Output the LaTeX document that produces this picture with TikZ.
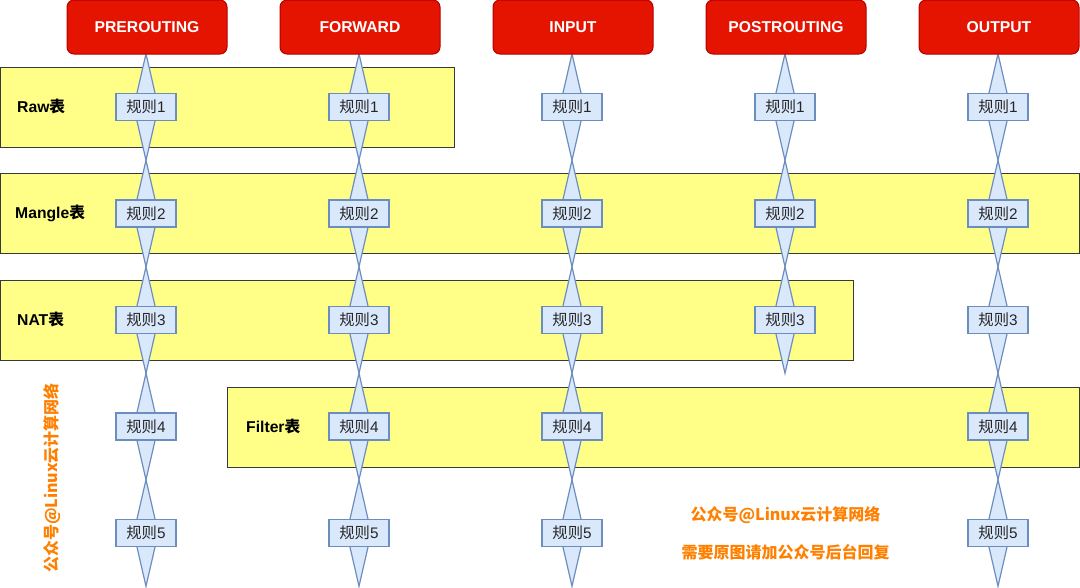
\documentclass[tikz,border=0pt]{standalone}
\usepackage{fontspec}
\setmainfont{Liberation Sans}
\newfontfamily\cjk{Noto Sans CJK SC}
\usetikzlibrary{shapes.geometric}
\definecolor{hdrfill}{HTML}{E51400}
\definecolor{hdrdraw}{HTML}{B20000}
\definecolor{tblfill}{HTML}{FFFF88}
\definecolor{tbldraw}{HTML}{36393D}
\definecolor{rulefill}{HTML}{DAE8FC}
\definecolor{ruledraw}{HTML}{6C8EBF}
\definecolor{wm}{HTML}{FF8000}
\tikzset{
  hdr/.style={draw=hdrdraw, fill=hdrfill, line width=1pt, rounded corners=7pt,
    minimum width=160pt, minimum height=54pt, inner sep=0pt,
    text=white, font=\fontsize{15.7}{18}\selectfont\bfseries},
  tbl/.style={draw=tbldraw, fill=tblfill, line width=1.2pt, inner sep=0pt},
  tbllabel/.style={anchor=west, inner sep=0pt, font=\fontsize{15.7}{18}\selectfont\bfseries},
  dia/.style={shape=diamond, draw=ruledraw, fill=rulefill, line width=1.2pt,
    minimum width=25pt, minimum height=107pt, inner sep=0pt},
  rulebox/.style={draw=ruledraw, fill=rulefill, line width=1.2pt,
    minimum width=60pt, minimum height=27pt, inner sep=0pt,
    text=black!85, font=\fontsize{15.3}{18}\selectfont},
  wmtext/.style={text=wm, inner sep=0pt, font=\fontsize{16}{19}\selectfont\bfseries\cjk},
}
\begin{document}
\begin{tikzpicture}[x=1pt, y=-1pt]
\useasboundingbox (0,0) rectangle (1080,587);
% tables
\node[tbl, minimum width=454pt, minimum height=80pt, anchor=north west] (raw) at (0,67) {};
\node[tbl, minimum width=1079pt, minimum height=80pt, anchor=north west] (mangle) at (0,173) {};
\node[tbl, minimum width=853pt, minimum height=80pt, anchor=north west] (nat) at (0,280) {};
\node[tbl, minimum width=852pt, minimum height=80pt, anchor=north west] (filter) at (227,386.5) {};
\node[tbllabel] (rawl) at (17,107) {Raw{\cjk 表}};
\node[tbllabel] (manglel) at (15,213.5) {Mangle{\cjk 表}};
\node[tbllabel] (natl) at (17,320) {NAT{\cjk 表}};
\node[tbllabel] (filterl) at (246,426.5) {Filter{\cjk 表}};
% diamonds and rules
\foreach \c/\xx/\n in {pre/146/5, fwd/359/5, inp/572/5, post/785/3, out/998/5}{
  \foreach \r in {1,...,\n}{
    \node[dia] (d-\c-\r) at (\xx,{107+106.5*(\r-1)}) {};
  }
}
\foreach \c/\xx/\n in {pre/146/5, fwd/359/5, inp/572/5, post/785/3, out/998/5}{
  \foreach \r in {1,...,\n}{
    \node[rulebox] (r-\c-\r) at (\xx,{107+106.5*(\r-1)}) {{\cjk 规则}\r};
  }
}
% headers
\node[hdr] (pre) at (147,27) {PREROUTING};
\node[hdr] (fwd) at (360,27) {FORWARD};
\node[hdr] (inp) at (573,27) {INPUT};
\node[hdr] (post) at (786,27) {POSTROUTING};
\node[hdr] (out) at (999,27) {OUTPUT};
% watermarks
\node[wmtext, rotate=90] (wm1) at (52,478) {公众号@Linux云计算网络};
\node[wmtext] (wm2) at (785.5,515) {公众号@Linux云计算网络};
\node[wmtext] (wm3) at (785.5,552) {需要原图请加公众号后台回复};
\end{tikzpicture}
\end{document}
